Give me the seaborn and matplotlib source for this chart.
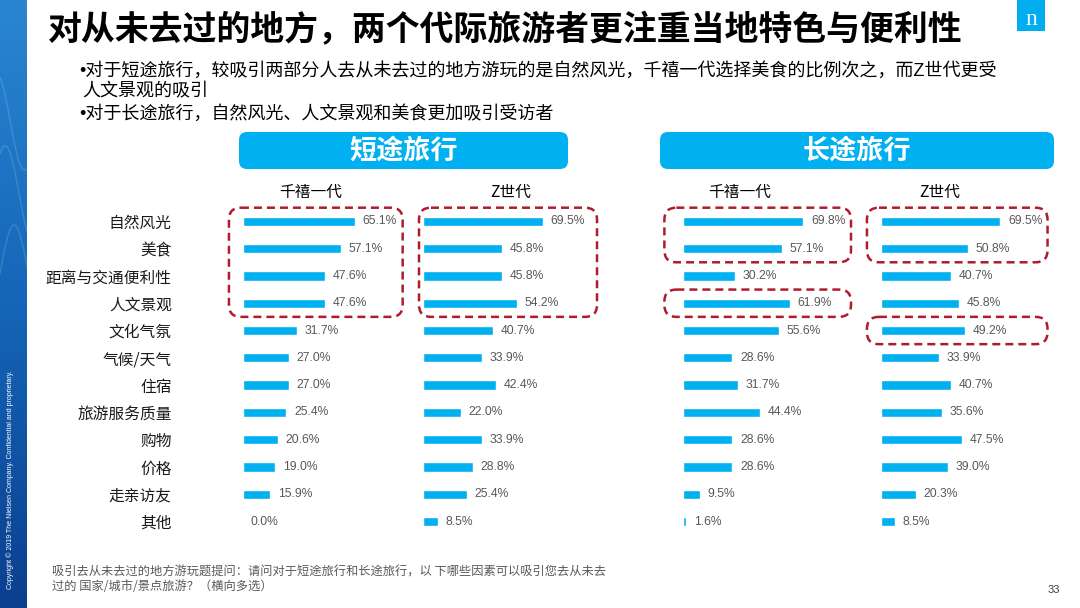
"""
Nielsen slide: what attracts travellers to places they have never been.
"""

import numpy as np
import matplotlib
matplotlib.use('Agg')
import matplotlib.pyplot as plt
import seaborn as sns
from matplotlib.patches import FancyBboxPatch, Rectangle
from matplotlib.colors import LinearSegmentedColormap

# ---- data -----------------------------------------------------------------
categories = ['自然风光', '美食', '距离与交通便利性', '人文景观', '文化气氛', '气候/天气',
              '住宿', '旅游服务质量', '购物', '价格', '走亲访友', '其他']

short_millennial = [65.1, 57.1, 47.6, 47.6, 31.7, 27.0, 27.0, 25.4, 20.6, 19.0, 15.9, 0.0]
short_genz = [69.5, 45.8, 45.8, 54.2, 40.7, 33.9, 42.4, 22.0, 33.9, 28.8, 25.4, 8.5]
long_millennial = [69.8, 57.1, 30.2, 61.9, 55.6, 28.6, 31.7, 44.4, 28.6, 28.6, 9.5, 1.6]
long_genz = [69.5, 50.8, 40.7, 45.8, 49.2, 33.9, 40.7, 35.6, 47.5, 39.0, 20.3, 8.5]

panel_values = [short_millennial, short_genz, long_millennial, long_genz]
panel_titles = ['千禧一代', 'Z世代', '千禧一代', 'Z世代']
trip_titles = ['短途旅行', '长途旅行']

# highlighted row groups per panel: (first row, last row)
highlights = {0: [(0, 3)], 1: [(0, 3)], 2: [(0, 1), (3, 3)], 3: [(0, 1), (4, 4)]}

title = '对从未去过的地方，两个代际旅游者更注重当地特色与便利性'
bullets = ['•对于短途旅行，较吸引两部分人去从未去过的地方游玩的是自然风光，千禧一代选择美食的比例次之，而Z世代更受',
           '人文景观的吸引',
           '•对于长途旅行，自然风光、人文景观和美食更加吸引受访者']
footnote = ['吸引去从未去过的地方游玩题提问：请问对于短途旅行和长途旅行，以 下哪些因素可以吸引您去从未去',
            '过的 国家/城市/景点旅游？（横向多选）']

# ---- style ----------------------------------------------------------------
W, H = 1080, 608
BLUE = '#00B0F0'
RED = '#B01C2E'
GREY = '#595959'
LATIN = ['Liberation Sans', 'Noto Sans CJK SC', 'DejaVu Sans']

sns.set_theme(style='white')
plt.rcParams['font.family'] = ['Noto Sans CJK SC', 'DejaVu Sans']

fig = plt.figure(figsize=(W / 100, H / 100), dpi=100)


def fx(x):
    return x / W


def fy(y):
    # pixel row from the top -> figure fraction
    return 1 - y / H


# left decorative strip
strip = fig.add_axes([0, 0, fx(27), 1])
strip_cmap = LinearSegmentedColormap.from_list('strip', ['#0B3F8F', '#1565B8', '#2A86D2'])
strip.imshow(np.linspace(0, 1, 256).reshape(-1, 1), aspect='auto', cmap=strip_cmap,
             origin='lower', extent=[0, 1, 0, 1])
t = np.linspace(0, 1, 100)
for k, off in enumerate([0.55, 0.68, 0.8]):
    strip.plot(t, off + 0.08 * np.sin(3 * t + k), color='white', alpha=0.15, lw=1)
strip.set_xlim(0, 1)
strip.set_ylim(0, 1)
strip.axis('off')
fig.text(fx(10), fy(480), 'Copyright © 2019 The Nielsen Company. Confidential and proprietary.',
         rotation=90, ha='center', va='center', color='white', fontsize=5, family=LATIN)

# logo
fig.add_artist(Rectangle((fx(1017), fy(31)), fx(28), 31 / H, transform=fig.transFigure,
                         facecolor='#00AEEF', edgecolor='none'))
fig.text(fx(1031), fy(25), 'n', ha='center', va='baseline', color='white', fontsize=17,
         family='Liberation Serif')

# title and bullets
fig.text(fx(48), fy(30), title, fontsize=24.4, weight='bold', ha='left', va='center', color='black')
fig.text(fx(79), fy(71), bullets[0], fontsize=13, ha='left', va='center', color='black', family=LATIN)
fig.text(fx(82), fy(92), bullets[1], fontsize=13, ha='left', va='center', color='black', family=LATIN)
fig.text(fx(79), fy(113.5), bullets[2], fontsize=13, ha='left', va='center', color='black', family=LATIN)

# trip-type header boxes
for (x0, x1), label in zip([(239, 568), (660, 1054)], trip_titles):
    fig.add_artist(FancyBboxPatch((fx(x0), fy(169)), fx(x1 - x0), 37 / H,
                                  boxstyle=f'round,pad=0,rounding_size={8 / W}',
                                  mutation_aspect=W / H, transform=fig.transFigure,
                                  facecolor=BLUE, edgecolor='none'))
    fig.text(fx((x0 + x1) / 2), fy(151), label, ha='center', va='center', color='white',
             fontsize=19.5, weight='bold')

# ---- bar panels -----------------------------------------------------------
panel_left = [242.7, 423.3, 683.3, 880.7]
header_x = [311, 511, 740, 940]
box_x = [(-8, 93), (-2.5, 101), (-11, 97.5), (-8, 97)]
ax_w, ax_top, ax_bottom = 172, 207.7, 535.2

for i, values in enumerate(panel_values):
    ax = fig.add_axes([fx(panel_left[i]), fy(ax_bottom), fx(ax_w), (ax_bottom - ax_top) / H])
    sns.barplot(x=values, y=categories, order=categories, orient='h', color=BLUE,
                saturation=1, width=0.34, ax=ax)
    ax.bar_label(ax.containers[0], fmt='%.1f%%', padding=5.5, fontsize=8.7, color=GREY,
                 family=LATIN)
    ax.set_xlim(0, 100)
    ax.set_ylim(len(categories) - 0.5, -0.5)
    ax.set_xticks([])
    ax.set_xlabel('')
    ax.set_ylabel('')
    sns.despine(ax=ax, left=True, bottom=True)
    if i == 0:
        ax.tick_params(axis='y', length=0, pad=51, labelsize=11.3, labelcolor='#1a1a1a')
    else:
        ax.set_yticks([])
    ax.patch.set_alpha(0)

    fig.text(fx(header_x[i]), fy(192), panel_titles[i], ha='center', va='center',
             fontsize=11.3, color='black')

    # dashed highlight boxes, rounding corrected for the axis aspect
    px_x = ax_w / 100
    px_row = (ax_bottom - ax_top) / len(categories)
    rs = 12 / px_x
    for r0, r1 in highlights[i]:
        x0, x1 = box_x[i]
        ax.add_patch(FancyBboxPatch((x0, r0 - 0.5), x1 - x0, r1 - r0 + 1,
                                    boxstyle=f'round,pad=0,rounding_size={rs}',
                                    mutation_aspect=px_x / px_row,
                                    facecolor='none', edgecolor=RED, linewidth=1.8,
                                    linestyle=(0, (3.2, 2.0)), clip_on=False))

# footnote and page number
fig.text(fx(52), fy(572), footnote[0], fontsize=8.8, color=GREY, ha='left', va='center')
fig.text(fx(52), fy(586), footnote[1], fontsize=8.8, color=GREY, ha='left', va='center')
fig.text(fx(1054), fy(590), '33', fontsize=8, color='#404040', ha='center', va='center',
         family=LATIN)

fig.savefig('out.png', dpi=100)
plt.close(fig)
